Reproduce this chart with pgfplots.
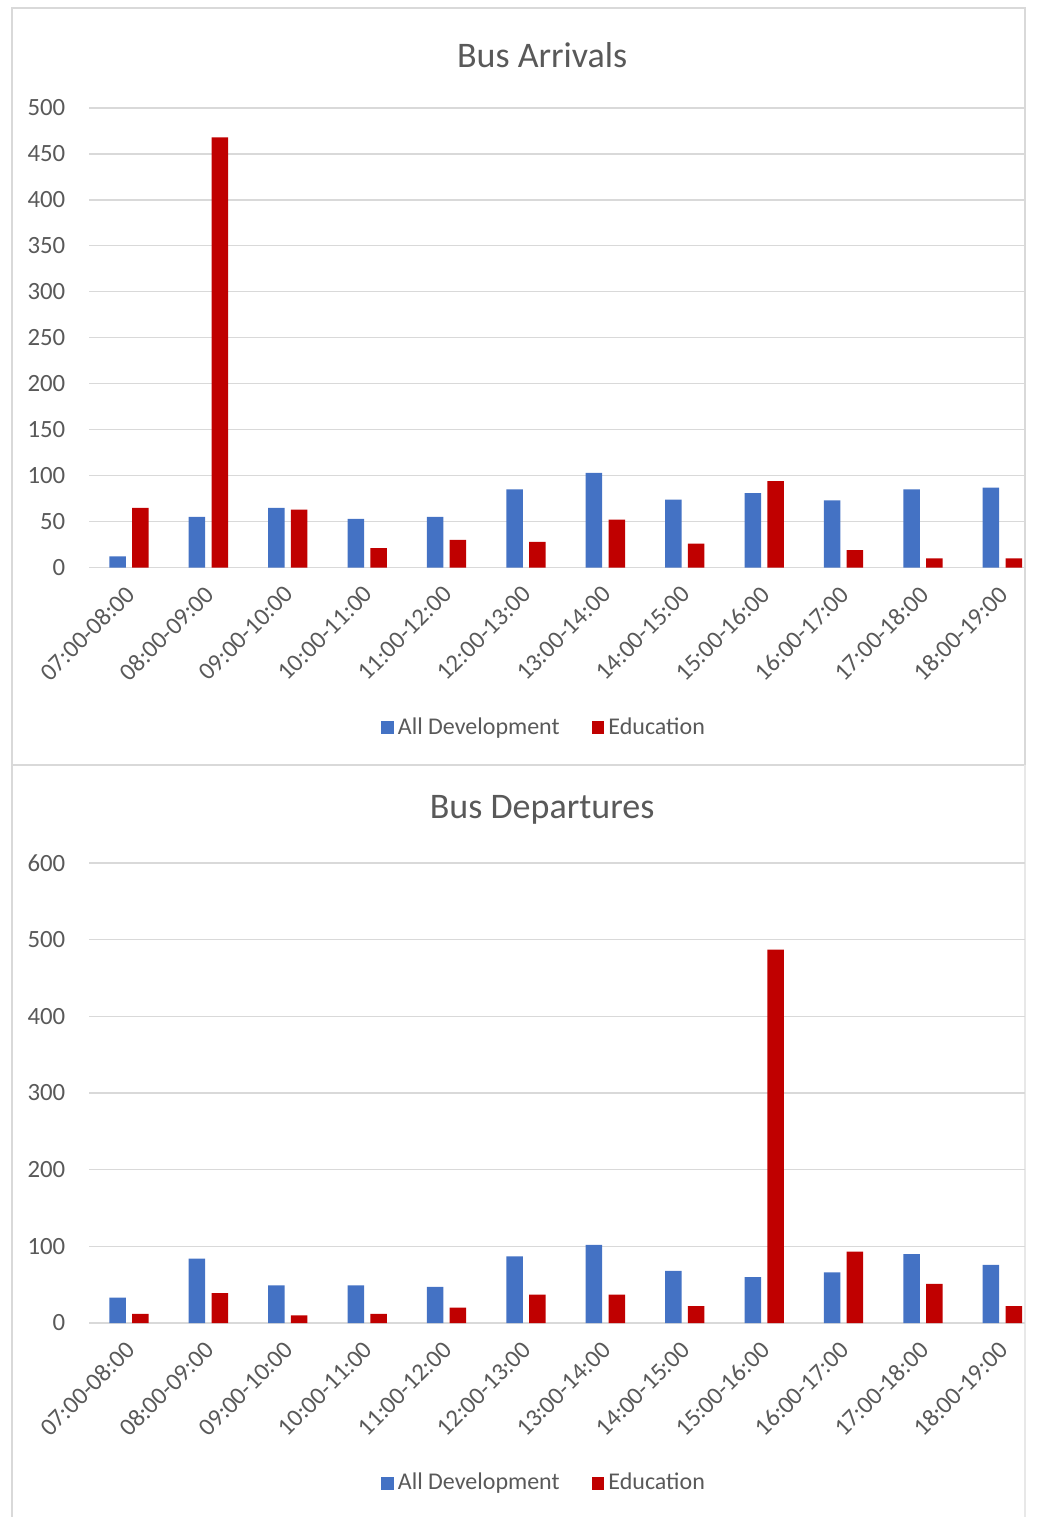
\documentclass[border=0pt]{standalone}
\usepackage{pgfplots}
\pgfplotsset{compat=1.18}
\usepackage{pgfplotstable}
\usepackage{fontspec}
\setmainfont{Carlito}
\definecolor{barblue}{RGB}{68,114,196}
\definecolor{barred}{RGB}{192,0,0}
\definecolor{txtgray}{RGB}{89,89,89}
\definecolor{gridgray}{RGB}{217,217,217}

\pgfplotstableread{
x blue red
0 12 65
1 55 468
2 65 63
3 53 21
4 55 30
5 85 28
6 103 52
7 74 26
8 81 94
9 73 19
10 85 10
11 87 10
}\arrivals

\pgfplotstableread{
x blue red
0 33 12
1 84 39
2 49 10
3 49 12
4 47 20
5 87 37
6 102 37
7 68 22
8 60 487
9 66 93
10 90 51
11 76 22
}\departures

\pgfplotsset{
  buschart/.style={
    scale only axis,
    width=467.85pt,
    height=229.75pt,
    xmin=-0.5, xmax=11.285,
    ymin=0,
    axis line style={draw=none},
    tick style={draw=none},
    ymajorgrids,
    major grid style={gridgray, line width=0.6pt},
    xtick={0,...,11},
    xticklabels={07:00-08:00,08:00-09:00,09:00-10:00,10:00-11:00,11:00-12:00,12:00-13:00,13:00-14:00,14:00-15:00,15:00-16:00,16:00-17:00,17:00-18:00,18:00-19:00},
    xticklabel style={font=\fontsize{12.4}{14}\selectfont, text=txtgray, xshift=3pt, yshift=-9pt, rotate=45, anchor=east},
    yticklabel style={font=\fontsize{12.4}{14}\selectfont, text=txtgray, xshift=-8.5pt},
    /pgf/number format/assume math mode=true,
    title style={font=\fontsize{18}{21}\selectfont, text=txtgray, anchor=center},
    legend columns=2,
    legend style={draw=none, fill=none, font=\fontsize{12}{14}\selectfont, text=txtgray,
      /tikz/every even column/.append style={column sep=14pt}},
    legend cell align=left,
    legend image code/.code={\fill[#1] (0pt,-3.2pt) rectangle (6.4pt,3.2pt);},
    bar width=8.25pt,
  }
}

\begin{document}
\begin{tikzpicture}
\useasboundingbox (0,0) rectangle (532pt,-758.5pt);
% panel frames
\draw[gridgray, line width=0.6pt] (6pt,-4pt) rectangle (512.5pt,-382.5pt);
\draw[gridgray, line width=0.6pt] (6pt,-382.5pt) -- (6pt,-758.5pt);
\draw[gridgray!60, line width=0.6pt] (512.5pt,-382.5pt) -- (512.5pt,-758.5pt);

\begin{axis}[buschart,
  at={(44.65pt,-283.75pt)}, anchor=south west,
  ymax=500, ytick distance=50,
  title={Bus Arrivals},
  title style={at={(0.484,1.0894)}, anchor=center},
  legend style={at={(0.487,-0.3486)}, anchor=center},
]
\addplot[ybar, fill=barblue, draw=none, bar shift=-5.7pt] table[x=x, y=blue] {\arrivals};
\addlegendentry{All Development}
\addplot[ybar, fill=barred, draw=none, bar shift=5.7pt] table[x=x, y=red] {\arrivals};
\addlegendentry{Education}
\end{axis}

\begin{axis}[buschart,
  at={(44.65pt,-661.5pt)}, anchor=south west,
  height=230pt,
  ymax=600, ytick distance=100,
  title={Bus Departures},
  title style={at={(0.484,1.089)}, anchor=center},
  legend style={at={(0.487,-0.348)}, anchor=center},
]
\addplot[ybar, fill=barblue, draw=none, bar shift=-5.7pt] table[x=x, y=blue] {\departures};
\addlegendentry{All Development}
\addplot[ybar, fill=barred, draw=none, bar shift=5.7pt] table[x=x, y=red] {\departures};
\addlegendentry{Education}
\end{axis}
\end{tikzpicture}
\end{document}
